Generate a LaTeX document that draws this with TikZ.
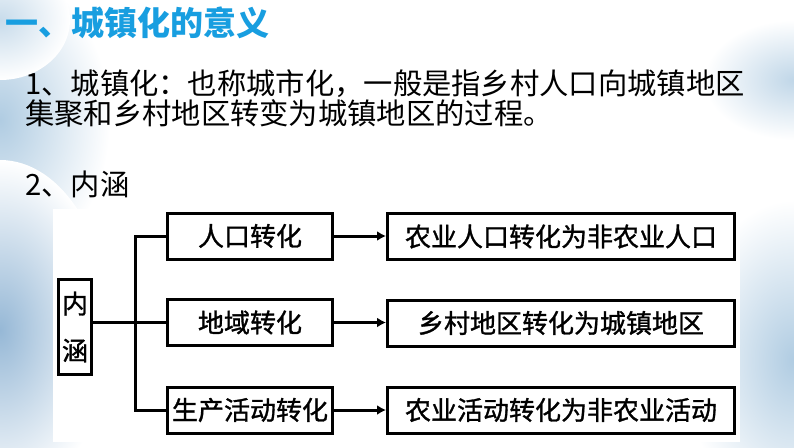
\documentclass[tikz,border=0pt]{standalone}
\usepackage{fontspec}
\setmainfont{Noto Sans CJK SC}
\newfontfamily\boxfont[FakeBold=1.2]{Noto Sans CJK SC}
\usetikzlibrary{arrows.meta,shadings}
\definecolor{titleblue}{RGB}{24,158,224}
\definecolor{wash}{RGB}{176,204,226}
\definecolor{washdark}{RGB}{150,184,214}
\tikzset{
  bodytxt/.style={anchor=west, inner sep=0pt, font=\fontsize{29.3}{29.5}\selectfont, text=black},
  boxtxt/.style={draw=black, line width=3pt, fill=white, inner sep=0pt, font=\boxfont\fontsize{26}{30}\selectfont, minimum height=46pt},
  leftbox/.style={boxtxt, minimum width=165pt},
  rightbox/.style={boxtxt, minimum width=347pt},
  conn/.style={line width=3pt, draw=black},
  arr/.style={conn, -{Latex[length=9pt,width=10pt]}},
  washblob/.style={inner color=#1, outer color=white}
}
\begin{document}
\begin{tikzpicture}[x=1pt,y=-1pt]
\useasboundingbox (0,0) rectangle (794,447);
\fill[white] (0,0) rectangle (794,447);
% watercolor wash on the left edge
\shade[washblob=wash] (0,120) ellipse (110 and 150);
\shade[washblob=washdark] (0,330) ellipse (110 and 170);
\shade[washblob=wash!70] (0,20) ellipse (70 and 60);
% watercolor wash on the right edge
\shade[washblob=wash] (794,360) ellipse (110 and 160);
\shade[washblob=wash!80] (794,80) ellipse (90 and 60);
\fill[white] (53,209) rectangle (740,442);
% title and text
\node[anchor=west, inner sep=0pt, font=\fontsize{33}{36}\selectfont\bfseries, text=titleblue] (title) at (5,23) {一、城镇化的意义};
\node[bodytxt] (l1) at (25,83.5) {1、城镇化：也称城市化，一般是指乡村人口向城镇地区};
\node[bodytxt] (l2) at (25,113) {集聚和乡村地区转变为城镇地区的过程。};
\node[bodytxt] (l3) at (25,184) {2、内涵};
% diagram
\node[draw=black, line width=3pt, fill=white, inner sep=0pt, minimum width=33pt, minimum height=95pt, align=center, font=\boxfont\fontsize{26}{47}\selectfont] (nh) at (75,327) {内\\涵};
\node[leftbox] (b1) at (250,236) {人口转化};
\node[leftbox] (b2) at (250,322.5) {地域转化};
\node[leftbox] (b3) at (250,410) {生产活动转化};
\node[rightbox] (r1) at (561,236.5) {农业人口转化为非农业人口};
\node[rightbox] (r2) at (561,323) {乡村地区转化为城镇地区};
\node[rightbox] (r3) at (561,410) {农业活动转化为非农业活动};
\coordinate (t1) at (135,236);
\coordinate (t2) at (135,322.5);
\coordinate (t3) at (135,410);
\draw[conn] (nh.east |- t2) -- (b2.west);
\draw[conn] (b1.west) -- (t1) -- (t3) -- (b3.west);
\draw[arr] (b1.east) -- (r1.west |- b1.east);
\draw[arr] (b2.east) -- (r2.west |- b2.east);
\draw[arr] (b3.east) -- (r3.west |- b3.east);
\end{tikzpicture}
\end{document}
